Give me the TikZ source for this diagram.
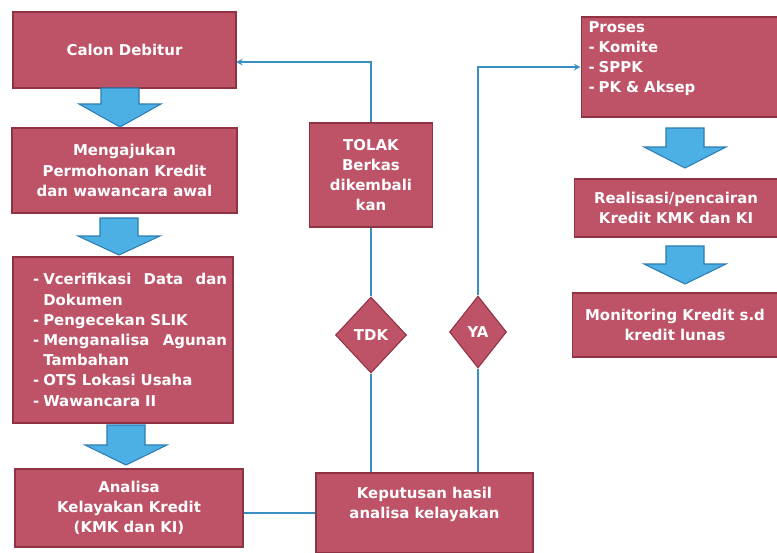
\documentclass[tikz,border=0pt]{standalone}
\usepackage{fontspec}
\setmainfont{DejaVu Sans}
\usetikzlibrary{shapes.geometric}

\definecolor{boxred}{HTML}{BE5368}
\definecolor{boxedge}{HTML}{8F3344}
\definecolor{linkblue}{HTML}{3A8FC2}
\definecolor{arrowfill}{HTML}{4DB0E4}
\definecolor{arrowedge}{HTML}{2B7DB5}

\newcommand{\dashitem}{\makebox[5.8pt][l]{-}}

\tikzset{
  box/.style={rectangle, fill=boxred, draw=boxedge, line width=0.6pt, text=white,
    font=\fontsize{8.5}{11.5}\selectfont\bfseries, align=center, inner sep=0pt},
  choice/.style={diamond, fill=boxred, draw=boxedge, line width=0.6pt, text=white,
    font=\fontsize{8.5}{11.5}\selectfont\bfseries, inner sep=0pt},
  link/.style={draw=linkblue, line width=0.7pt, >=stealth},
  blockarrow/.style={fill=arrowfill, draw=arrowedge, line width=0.6pt, line join=miter},
}

\begin{document}
\begin{tikzpicture}[x=0.02cm, y=-0.02cm]
    \useasboundingbox (0,0) rectangle (777,552);
    % --- kolom kiri ---
    \node[box, minimum width=4.46cm, minimum height=1.52cm] (calon) at (124.5,50) {Calon Debitur};
    \node[box, minimum width=4.5cm, minimum height=1.7cm] (ajukan) at (124.5,170.5)
        {Mengajukan\\Permohonan Kredit\\dan wawancara awal};
    \node[box, minimum width=4.4cm, minimum height=3.32cm, text width=4.16cm, align=left] (verif) at (123,340)
        {\leftskip=8pt
         \dashitem Vcerifikasi\hfill Data\hfill dan\\
         \hspace*{5.8pt}Dokumen\\
         \dashitem Pengecekan SLIK\\
         \dashitem Menganalisa\hfill Agunan\\
         \hspace*{5.8pt}Tambahan\\
         \dashitem OTS Lokasi Usaha\\
         \dashitem Wawancara II\par};
    \node[box, minimum width=4.56cm, minimum height=1.56cm] (analisa) at (129,508)
        {Analisa\\Kelayakan Kredit\\(KMK dan KI)};
    % --- tengah: keputusan ---
    \node[box, minimum width=4.34cm, minimum height=1.6cm] (keputusan) at (424.5,513)
        {Keputusan hasil\\analisa kelayakan\\\mbox{}};
    \node[box, minimum width=2.46cm, minimum height=2.08cm] (tolak) at (371,175)
        {TOLAK\\Berkas\\dikembali\\kan};
    \node[choice, minimum width=1.42cm, minimum height=1.52cm] (tdk) at (371,335) {TDK};
    \node[choice, minimum width=1.14cm, minimum height=1.44cm] (ya) at (478,332) {YA};
    % --- kolom kanan ---
    \node[box, minimum width=3.94cm, minimum height=2cm, text width=3.64cm, align=left] (proses) at (679.5,67)
        {Proses\\\dashitem Komite\\\dashitem SPPK\\\dashitem PK \& Aksep\\\mbox{}};
    \node[box, minimum width=4.08cm, minimum height=1.16cm] (realisasi) at (676,208)
        {Realisasi/pencairan\\Kredit KMK dan KI};
    \node[box, minimum width=4.12cm, minimum height=1.28cm] (monitoring) at (675,325)
        {Monitoring Kredit s.d\\kredit lunas};
    % --- panah biru besar ---
    \foreach \cx/\ytop/\yneck/\ytip in {120/88/104/127, 119/218/236/255, 126/425/445/465, 685/128/147/168, 685/246/264/284}
        \draw[blockarrow] (\cx-19,\ytop) -- (\cx+19,\ytop) -- (\cx+19,\yneck) -- (\cx+41,\yneck)
            -- (\cx,\ytip) -- (\cx-41,\yneck) -- (\cx-19,\yneck) -- cycle;
    % --- garis penghubung ---
    \coordinate (back) at (236,62);
    \draw[link, ->] (tolak.north) |- (back);
    \draw[link] (tolak.south) -- (tdk.north);
    \draw[link] (tdk.south) -- (tdk.south |- keputusan.north);
    \draw[link] (ya.south |- keputusan.north) -- (ya.south);
    \draw[link, ->] (ya.north) |- (proses.west);
    \draw[link] (analisa.east |- keputusan.west) -- (keputusan.west);
\end{tikzpicture}
\end{document}
